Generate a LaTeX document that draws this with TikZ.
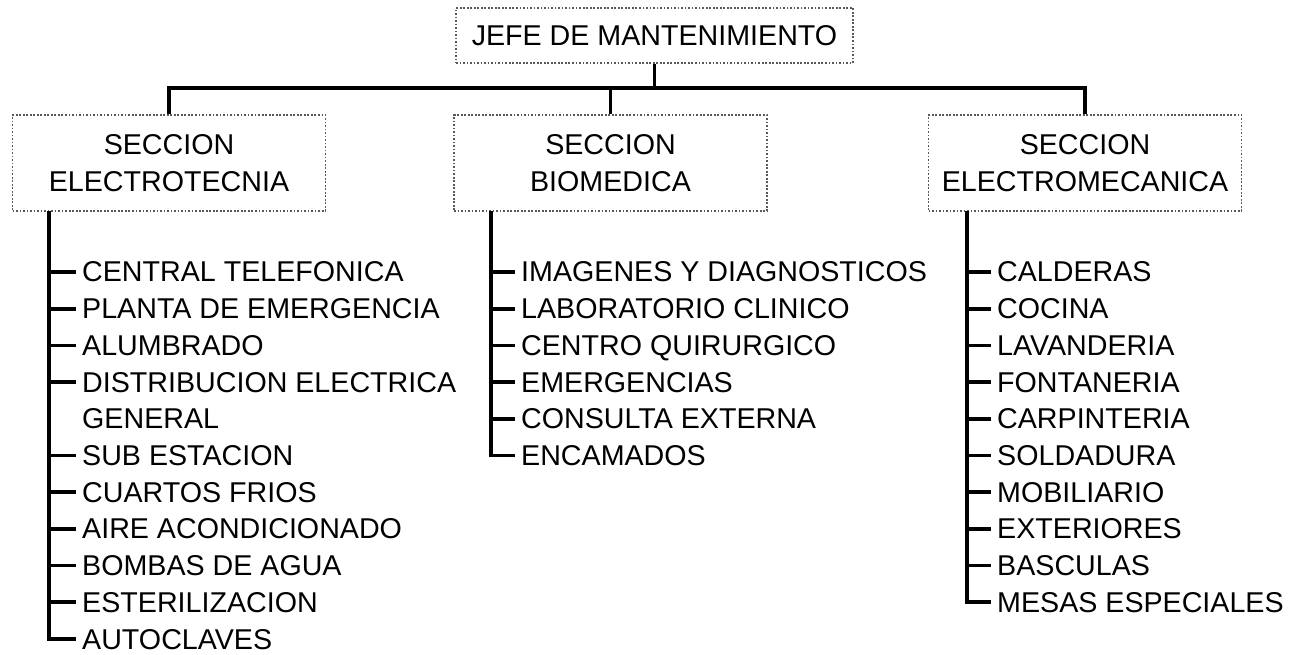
\documentclass[tikz,border=0pt]{standalone}
\usepackage{fontspec}
\setmainfont{Liberation Sans}
\usetikzlibrary{positioning}

\tikzset{
  box/.style={draw=black!65,densely dotted,line width=1pt,align=center,
    minimum width=6.26cm,minimum height=1.92cm},
  item/.style={anchor=west,text depth=0pt,inner ysep=1pt},
  conn/.style={line width=2.1pt}
}

\begin{document}
\begin{tikzpicture}[x=0.02cm,y=-0.02cm,font=\fontsize{16.3}{21}\selectfont]
  \useasboundingbox (0,0) rectangle (1299,655);
  % jefe and secciones
  \node[box,minimum width=7.94cm,minimum height=1.1cm] (jefe) at (654.5,35.5) {JEFE DE MANTENIMIENTO};
  \node[box] (elec) at (169,163)   {SECCION\\ELECTROTECNIA};
  \node[box] (bio)  at (610.5,163) {SECCION\\BIOMEDICA};
  \node[box] (mec)  at (1085,163)  {SECCION\\ELECTROMECANICA};
  \coordinate (hub) at (654.5,88);
  \draw[conn] (jefe.south) -- (hub);
  \draw[conn] (hub) -| (elec.north);
  \draw[conn] (hub) -| (bio.north);
  \draw[conn] (hub) -| (mec.north);

  % electrotecnia
  \foreach \t [count=\k from 0] in {CENTRAL TELEFONICA,PLANTA DE EMERGENCIA,ALUMBRADO,
      DISTRIBUCION ELECTRICA,GENERAL,SUB ESTACION,CUARTOS FRIOS,AIRE ACONDICIONADO,
      BOMBAS DE AGUA,ESTERILIZACION,AUTOCLAVES}
    \node[item] (e\k) at (76,272+36.7*\k) {\t};
  \coordinate (eb) at (49,211);
  \draw[conn] (eb) |- (e10.west);
  \foreach \k in {0,1,2,3,5,6,7,8,9}
    \draw[conn] (e\k.west -| eb) -- (e\k.west);

  % biomedica
  \foreach \t [count=\k from 0] in {IMAGENES Y DIAGNOSTICOS,LABORATORIO CLINICO,
      CENTRO QUIRURGICO,EMERGENCIAS,CONSULTA EXTERNA,ENCAMADOS}
    \node[item] (b\k) at (515,272+36.7*\k) {\t};
  \coordinate (bb) at (491,211);
  \draw[conn] (bb) |- (b5.west);
  \foreach \k in {0,...,4}
    \draw[conn] (b\k.west -| bb) -- (b\k.west);

  % electromecanica
  \foreach \t [count=\k from 0] in {CALDERAS,COCINA,LAVANDERIA,FONTANERIA,CARPINTERIA,
      SOLDADURA,MOBILIARIO,EXTERIORES,BASCULAS,MESAS ESPECIALES}
    \node[item] (m\k) at (991,272+36.7*\k) {\t};
  \coordinate (mb) at (967,211);
  \draw[conn] (mb) |- (m9.west);
  \foreach \k in {0,...,8}
    \draw[conn] (m\k.west -| mb) -- (m\k.west);
\end{tikzpicture}
\end{document}
